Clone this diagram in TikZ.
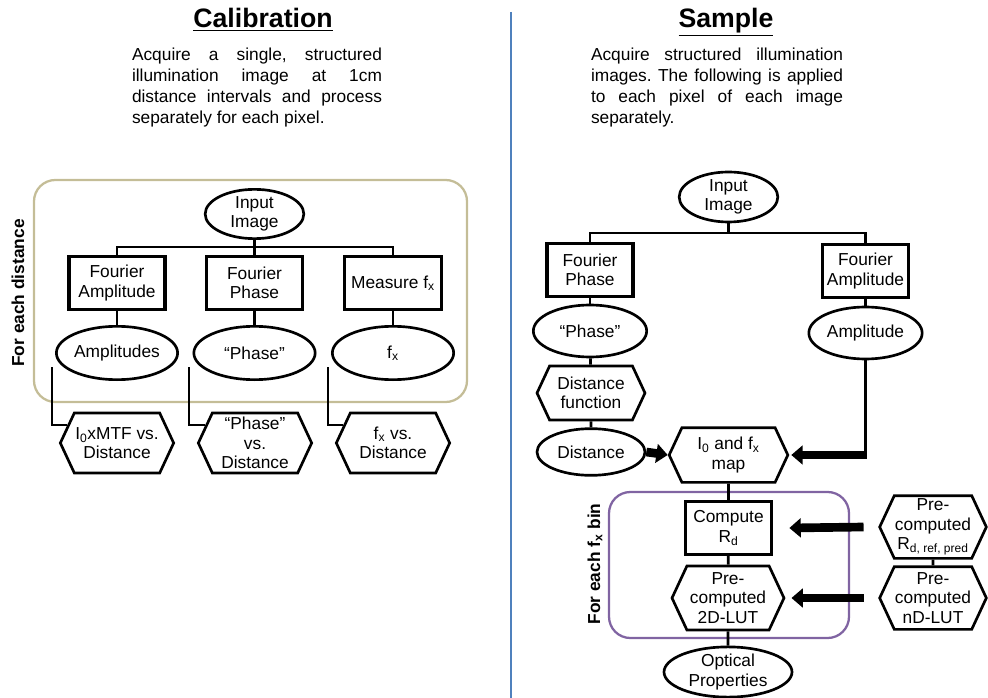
\documentclass[tikz,border=0pt]{standalone}
\usepackage{fontspec}
\setmainfont{Liberation Sans}
\usepackage{tikz}
\usetikzlibrary{shapes.geometric}
\usetikzlibrary{shapes.symbols}
\usetikzlibrary{arrows.meta}
\frenchspacing

\definecolor{framebeige}{RGB}{196,189,151}
\definecolor{framepurple}{RGB}{128,100,162}
\definecolor{divblue}{RGB}{79,129,189}

\tikzset{
  txt/.style={font=\fontsize{13pt}{14.5pt}\selectfont,align=center,inner sep=0pt},
  para/.style={font=\fontsize{13pt}{15.75pt}\selectfont,align=justify,inner sep=0pt},
  heading/.style={font=\bfseries\fontsize{20pt}{24pt}\selectfont,inner sep=0pt,anchor=base},
  sidelabel/.style={font=\bfseries\fontsize{13pt}{15pt}\selectfont,rotate=90,inner sep=0pt},
  procbox/.style={txt,rectangle,draw,line width=2.3pt},
  dataoval/.style={txt,ellipse,draw,line width=2pt},
  hexbox/.style={txt,signal,signal to=west and east,signal pointer angle=130,
                 draw,line width=2pt},
  conn/.style={line width=2pt},
  fat/.style={line width=6.5pt,-{Triangle[length=8.5pt,width=14pt]}},
  loopframe/.style={line width=1.7pt,rounded corners=16pt},
}

\begin{document}
\begin{tikzpicture}[x=0.75pt,y=-0.75pt]
  \useasboundingbox (0,0) rectangle (988,698);

  % divider
  \draw[divblue,line width=1.1pt] (511,12) -- (511,698);

  %%% calibration
  \node[heading] (ctitle) at (263,28) {\underline{Calibration}};
  \node[para,text width=187.5pt] (ctext) at (257,88)
    {Acquire a single, structured\linebreak illumination image at 1cm\linebreak
     distance intervals and process\linebreak separately for each pixel.};

  \draw[loopframe,framebeige] (34,180) rectangle (467,402);
  \node[sidelabel] (cloop) at (18,293) {For each distance};

  \node[dataoval,minimum width=74pt,minimum height=35pt] (cinput) at (254.5,214) {Input\\Image};
  \coordinate (cbus) at (254.5,247);

  \node[procbox,minimum width=72pt,minimum height=40pt] (cfamp) at (117,283) {Fourier\\Amplitude};
  \node[procbox,minimum width=72pt,minimum height=40pt] (cfph) at (254.5,283) {Fourier\\Phase};
  \node[procbox,minimum width=73pt,minimum height=40pt] (cmeas) at (393,283) {Measure f\textsubscript{x}};

  \node[dataoval,minimum width=90pt,minimum height=40pt] (camps) at (117,353) {Amplitudes};
  \node[dataoval,minimum width=91pt,minimum height=40pt] (cphase) at (254.5,353) {“Phase”};
  \node[dataoval,minimum width=91pt,minimum height=40pt] (cfx) at (393,353) {f\textsubscript{x}};

  \node[hexbox,minimum width=85pt,minimum height=45pt] (cmtf) at (117,443) {I\textsubscript{0}xMTF vs.\\Distance};
  \node[hexbox,minimum width=85pt,minimum height=45pt] (cphd) at (255,443) {“Phase”\\vs.\\Distance};
  \node[hexbox,minimum width=85pt,minimum height=45pt] (cfxd) at (393,443) {f\textsubscript{x} vs.\\Distance};

  \coordinate (cs1) at (52,367);
  \coordinate (cs2) at (189,367);
  \coordinate (cs3) at (328,367);

  \draw[conn] (cinput) -- (cbus);
  \draw[conn] (cfamp.north) |- (cbus) -| (cmeas.north);
  \draw[conn] (cbus) -- (cfph);
  \draw[conn] (cfamp) -- (camps);
  \draw[conn] (cfph) -- (cphase);
  \draw[conn] (cmeas) -- (cfx);
  \draw[conn] (cs1) |- (cmtf.160);
  \draw[conn] (cs2) |- (cphd.160);
  \draw[conn] (cs3) |- (cfxd.160);

  %%% sample
  \node[heading] (stitle) at (726,28) {\underline{Sample}};
  \node[para,text width=189pt] (stext) at (717,88)
    {Acquire structured illumination\linebreak images. The following is applied\linebreak
     to each pixel of each image\linebreak separately.};

  \node[dataoval,minimum width=74pt,minimum height=37.5pt] (sinput) at (728.5,197) {Input\\Image};
  \coordinate (sbus) at (728.5,233);

  \node[procbox,minimum width=64.5pt,minimum height=40pt] (sfph) at (590,270) {Fourier\\Phase};
  \node[procbox,minimum width=65pt,minimum height=40pt] (sfamp) at (865.5,271) {Fourier\\Amplitude};

  \node[dataoval,minimum width=85pt,minimum height=39pt] (sphase) at (590,331) {“Phase”};
  \node[dataoval,minimum width=85pt,minimum height=39pt] (samp) at (865.5,333) {Amplitude};

  \node[hexbox,minimum width=81pt,minimum height=40.5pt] (sdfun) at (591,393) {Distance\\function};
  \node[dataoval,minimum width=81pt,minimum height=35pt] (sdist) at (591,452) {Distance};
  \node[hexbox,minimum width=89pt,minimum height=41pt] (smap) at (728.5,455) {I\textsubscript{0} and f\textsubscript{x}\\map};

  \draw[loopframe,framepurple] (609,492) rectangle (849,638);
  \node[sidelabel] (sloop) at (595,564) {For each f\textsubscript{x} bin};

  \node[procbox,minimum width=65pt,minimum height=40pt] (srd) at (728.5,528) {Compute\\R\textsubscript{d}};
  \node[hexbox,minimum width=84pt,minimum height=48pt] (slut) at (728,598) {Pre-\\computed\\2D-LUT};
  \node[dataoval,minimum width=96pt,minimum height=37pt] (sopt) at (728,672) {Optical\\Properties};

  \node[hexbox,minimum width=80pt,minimum height=47pt] (sref) at (933,527) {Pre-\\computed\\R\textsubscript{\fontsize{9pt}{9pt}\selectfont d, ref, pred}};
  \node[hexbox,minimum width=80pt,minimum height=47pt] (snd) at (933,598) {Pre-\\computed\\nD-LUT};

  \draw[conn] (sinput) -- (sbus);
  \draw[conn] (sfph.north) |- (sbus) -| (sfamp.north);
  \draw[conn] (sfph) -- (sphase);
  \draw[conn] (sphase) -- (sdfun);
  \draw[conn] (sdfun) -- (sdist);
  \draw[conn] (sfamp) -- (samp);
  \draw[conn] (samp.south) -- (samp |- smap);
  \draw[conn] (smap) -- (srd);
  \draw[conn] (srd) -- (slut);
  \draw[conn] (slut) -- (sopt);
  \draw[conn] (sref) -- (snd);

  \draw[fat] (sdist.east) -- (smap.west);
  \draw[fat] ([xshift=0.75pt]samp |- smap) -- ([xshift=1.5pt]smap.east);
  \draw[fat] ([xshift=-11pt]sref.west) -- ([xshift=12pt]srd.east);
  \draw[fat] ([xshift=-11pt]snd.west) -- ([xshift=4.5pt]slut.east);
\end{tikzpicture}
\end{document}
